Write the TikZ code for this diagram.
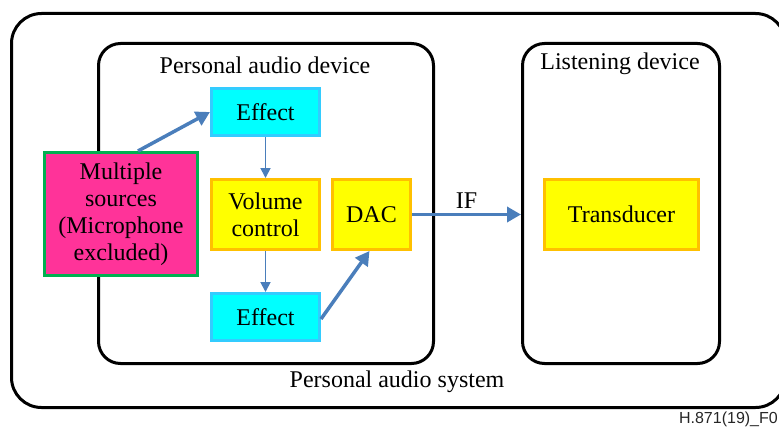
\documentclass[tikz,border=0pt]{standalone}
\usepackage{fontspec}
\setmainfont{Liberation Serif}
\newfontfamily\tms{Liberation Serif}
\newfontfamily\labelsans{Liberation Sans}
\usetikzlibrary{arrows.meta}
\definecolor{arrowblue}{HTML}{4A7EBB}
\definecolor{cyanfill}{HTML}{00FFFF}
\definecolor{cyanline}{HTML}{33CCFF}
\definecolor{yelfill}{HTML}{FFFF00}
\definecolor{yelline}{HTML}{FFC000}
\definecolor{magfill}{HTML}{FF3399}
\definecolor{greenline}{HTML}{00B050}
\tikzset{
  container/.style={draw=black, line width=3pt, anchor=north west, inner sep=0pt},
  effectbox/.style={draw=cyanline, fill=cyanfill, line width=3pt, anchor=north west, inner sep=0pt, minimum width=108pt, minimum height=47pt, font=\tms\fontsize{24}{28}\selectfont},
  yelbox/.style={draw=yelline, fill=yelfill, line width=3pt, anchor=north west, inner sep=0pt, minimum height=70pt, align=center, font=\tms\fontsize{24}{27}\selectfont},
  srcbox/.style={draw=greenline, fill=magfill, line width=3pt, anchor=north west, inner sep=0pt, minimum width=153pt, minimum height=123pt, align=center, font=\tms\fontsize{24}{27}\selectfont},
  thickarrow/.style={draw=arrowblue, line width=3.5pt, -{Triangle[length=14pt,width=15pt]}},
  thinarrow/.style={draw=arrowblue, line width=1.8pt, -{Triangle[length=10pt,width=10pt]}},
  title/.style={font=\tms\fontsize{24}{28}\selectfont, inner sep=0pt}
}
\begin{document}
\begin{tikzpicture}[x=1pt,y=-1pt]
\useasboundingbox (0,0) rectangle (779,428);
% containers
\node[container, rounded corners=30pt, minimum width=774pt, minimum height=394pt] (system) at (10,12) {};
\node[container, rounded corners=22pt, minimum width=335pt, minimum height=320pt] (pad) at (97,42) {};
\node[container, rounded corners=22pt, minimum width=197pt, minimum height=320pt] (ld) at (521,42) {};
\node[title] (padlbl) at (265,65) {Personal audio device};
\node[title] (ldlbl) at (620,64) {Listening device};
\node[title] (syslbl) at (397,382) {Personal audio system};
% blocks
\node[srcbox] (src) at (43,151) {Multiple\\sources\\(Microphone\\excluded)};
\node[effectbox] (eff1) at (210,87) {Effect};
\node[yelbox, minimum width=108pt] (vol) at (210,178) {Volume\\control};
\node[yelbox, minimum width=78pt] (dac) at (331,178) {DAC};
\node[effectbox] (eff2) at (210,292) {Effect};
\node[yelbox, minimum width=154pt] (trans) at (543,178) {Transducer};
% connectors
\draw[thickarrow] ([xshift=17pt]src.north) -- (eff1.west);
\draw[thinarrow] (eff1.south) -- (vol.north);
\draw[thinarrow] (vol.south) -- (eff2.north);
\draw[thickarrow] ([yshift=-2pt]eff2.east) -- ([xshift=-2pt]dac.south);
\draw[thickarrow] (dac.east) -- (ld.west |- dac.east) node[midway, above=4pt, title] (iflbl) {IF};
\node[font=\labelsans\fontsize{16}{18}\selectfont, anchor=east, text=black!85, inner sep=0pt] (fig) at (778,419) {H.871(19)\_F0};
\end{tikzpicture}
\end{document}
